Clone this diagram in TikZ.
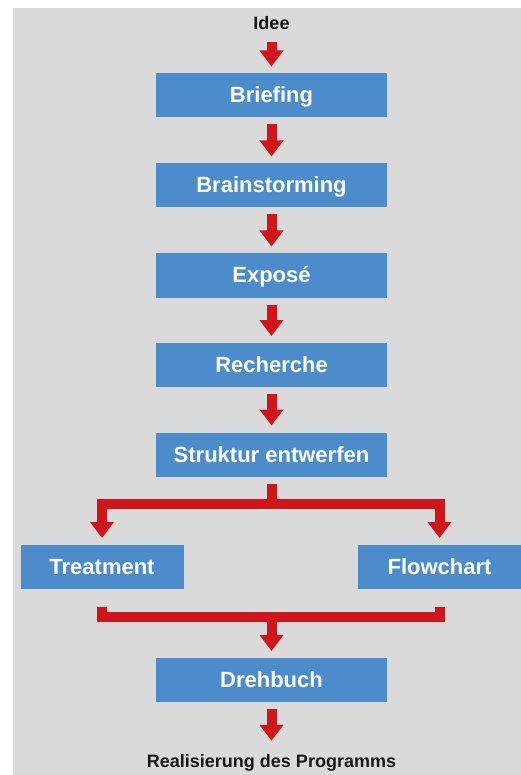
\documentclass[tikz,border=0pt]{standalone}
\usepackage{fontspec}
\setmainfont{Liberation Sans}
\usetikzlibrary{arrows.meta}
\definecolor{panel}{RGB}{218,218,218}
\definecolor{boxblue}{RGB}{76,140,203}
\definecolor{flowred}{RGB}{208,22,26}
\definecolor{ink}{RGB}{24,24,24}
\tikzset{
  stepbox/.style={fill=boxblue, draw=none, minimum height=44pt, inner sep=0pt,
    outer sep=7pt, text=white, font=\fontsize{22}{22}\selectfont\bfseries,
    text height=15pt, text depth=0pt},
  midbox/.style={stepbox, minimum width=231pt},
  sidebox/.style={stepbox, minimum width=163pt},
  endlabel/.style={inner sep=0pt, text=ink, font=\fontsize{18}{18}\selectfont\bfseries,
    text height=13pt, text depth=4pt},
  flowline/.style={draw=flowred, line width=10pt, line join=miter},
  flow/.style={flowline, -{Triangle[width=23pt,length=16pt]}},
}
\begin{document}
\begin{tikzpicture}[x=1pt, y=-1pt]
  % page and panel
  \useasboundingbox (0,0) rectangle (521,775);
  \fill[white] (0,0) rectangle (521,775);
  \fill[panel] (13,8) rectangle (521,775);

  % start and end labels
  \node[endlabel] (idee) at (271.5,25.5) {Idee};
  \node[endlabel] (real) at (271.5,762.5) {Realisierung des Programms};

  % main chain of steps
  \node[midbox] (brief)  at (271.5,95.5)  {Briefing};
  \node[midbox] (brain)  at (271.5,185.5) {Brainstorming};
  \node[midbox] (expose) at (271.5,275.5) {Exposé};
  \node[midbox] (rech)   at (271.5,365)   {Recherche};
  \node[midbox] (struct) at (271.5,454.5) {Struktur entwerfen};
  \node[sidebox] (treat) at (102,567)     {Treatment};
  \node[sidebox] (fc)    at (439.5,567)   {Flowchart};
  \node[midbox] (dreh)   at (271.5,680)   {Drehbuch};

  % split and merge points of the branch
  \coordinate (split) at (271.5,504);
  \coordinate (merge) at (271.5,617);

  % connectors
  \draw[flow, shorten <=8pt] (idee) -- (brief);
  \draw[flow] (brief) -- (brain);
  \draw[flow] (brain) -- (expose);
  \draw[flow] (expose) -- (rech);
  \draw[flow] (rech) -- (struct);
  \draw[flowline] (struct) -- (split);
  \draw[flow] (split) -| (treat);
  \draw[flow] (split) -| (fc);
  \draw[flowline] ([yshift=-11pt]treat.south) |- (merge) -| ([yshift=-11pt]fc.south);
  \draw[flow] (merge) -- (dreh);
  \draw[flow, shorten >=13pt] (dreh) -- (real);
\end{tikzpicture}
\end{document}
